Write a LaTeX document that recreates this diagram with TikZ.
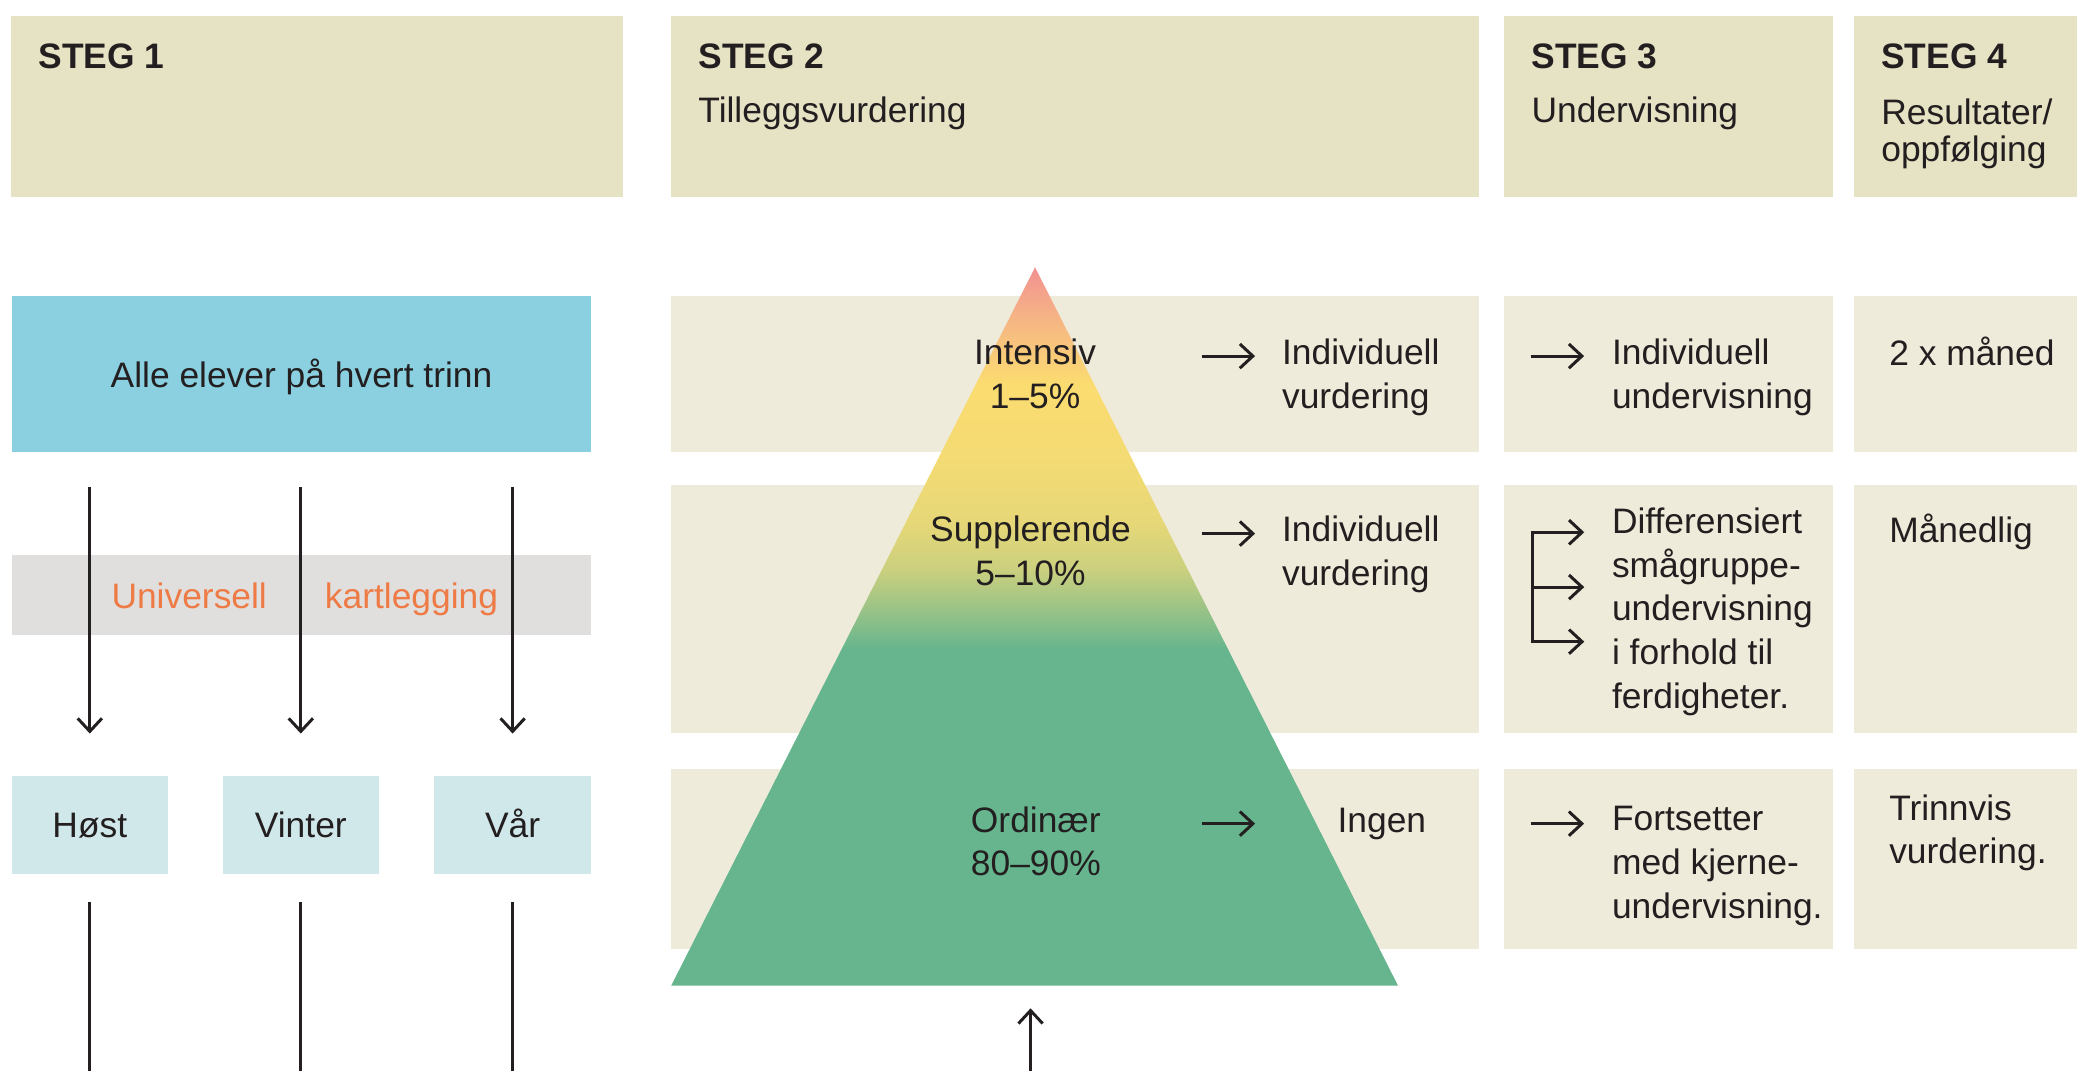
\documentclass[tikz,border=0pt]{standalone}
\usepackage{fontspec}
\setmainfont{Liberation Sans}
\usetikzlibrary{arrows.meta}

\definecolor{headbg}{HTML}{E6E2C4}
\definecolor{rowbg}{HTML}{EFEBDA}
\definecolor{allebg}{HTML}{8AD0E0}
\definecolor{bandbg}{HTML}{E0DFDD}
\definecolor{seasonbg}{HTML}{D0E8EA}
\definecolor{orangetext}{HTML}{EE7B45}
\definecolor{ink}{HTML}{231F20}
\definecolor{pyrpink}{HTML}{F29191}
\definecolor{pyrpeach}{HTML}{F6B485}
\definecolor{pyryellow}{HTML}{FBDC70}
\definecolor{pyrpale}{HTML}{F4DB73}
\definecolor{pyrlemon}{HTML}{E6D777}
\definecolor{pyrolive}{HTML}{CBD07E}
\definecolor{pyrsage}{HTML}{A3C585}
\definecolor{pyrgreen}{HTML}{66B58E}

\pgfdeclareverticalshading{pyramidshade}{100bp}{%
  color(0bp)=(pyrgreen); color(48.4bp)=(pyrgreen); color(51.7bp)=(pyrsage);
  color(54bp)=(pyrolive); color(57.2bp)=(pyrlemon); color(61.8bp)=(pyrpale);
  color(66.9bp)=(pyryellow); color(71.5bp)=(pyrpeach); color(75bp)=(pyrpink);
  color(100bp)=(pyrpink)}

\newcommand{\bodysize}{\fontsize{19}{23.5}\selectfont}
\newcommand{\headsize}{\fontsize{19}{20}\selectfont}

\begin{document}
\begin{tikzpicture}[x=0.025cm, y=-0.025cm,
    txt/.style={inner sep=0pt, align=left, text=ink, font=\bodysize, execute at begin node=\strut},
    head/.style={inner sep=0pt, anchor=base west, text=ink, font=\headsize\bfseries},
    sub/.style={inner sep=0pt, align=left, text=ink, font=\headsize, execute at begin node=\strut},
    box/.style={rectangle, inner sep=0pt, anchor=north west, text=ink, font=\bodysize, text height=13.9pt, text depth=0pt},
    seasonbox/.style={box, fill=seasonbg, minimum width=2.95cm, minimum height=1.85cm},
    arr/.style={draw=ink, line width=1.6pt, -{Straight Barb[length=7pt,width=13pt]}},
    plainline/.style={draw=ink, line width=1.6pt}]
        \useasboundingbox (0,0) rectangle (1568,808.5);
        % header boxes
        \foreach \xa/\xb in {8.3/470.3, 506.7/1116.6, 1135.5/1383.6, 1399.7/1568}
            \fill[headbg] (\xa,12.1) rectangle (\xb,148.5);
        % row boxes for steg 2, 3 and 4
        \foreach \ya/\yb in {223.5/341, 366.2/553.6, 580.6/716.7} {
            \fill[rowbg] (506.7,\ya)  rectangle (1116.6,\yb);
            \fill[rowbg] (1135.5,\ya) rectangle (1383.6,\yb);
            \fill[rowbg] (1399.7,\ya) rectangle (1568,\yb);
        }
        % header texts
        \node[head] (steg1) at (28.9,51.5) {STEG 1};
        \node[head] (steg2) at (527,51.5)  {STEG 2};
        \node[head] (steg3) at (1156,51.5) {STEG 3};
        \node[head] (steg4) at (1420,51.5) {STEG 4};
        \node[sub, anchor=base west]  (sub2) at (527,92.6)  {Tilleggsvurdering};
        \node[sub, anchor=base west]  (sub3) at (1156,92.6) {Undervisning};
        \node[sub, anchor=north west] (sub4) at (1420,74.5) {Resultater/\\oppfølging};
        % steg 1: all pupils, screening and the three seasons
        \node[box, fill=allebg, minimum width=10.94cm, minimum height=2.94cm] (alle) at (8.5,223.5) {Alle elever på hvert trinn};
        \node[box, fill=bandbg, minimum width=10.94cm, minimum height=1.525cm] (band) at (8.5,418.4) {};
        \node[seasonbox] (host)   at (8.5,585.4)   {Høst};
        \node[seasonbox] (vinter) at (167.8,585.4) {Vinter};
        \node[seasonbox] (var)    at (327.7,585.4) {Vår};
        \coordinate (bottomedge) at (0,808.5);
        \path (alle.south) ++(0,26) coordinate (armtop);
        \foreach \s in {host,vinter,var} {
            \draw[arr] (armtop -| \s) -- ([yshift=0.79cm]\s.north);
            \draw[plainline] ([yshift=-0.525cm]\s.south) -- (\s.south |- bottomedge);
        }
        \node[txt, anchor=base west, text=orangetext] (univ) at (83.9,459) {Universell};
        \node[txt, anchor=base west, text=orangetext] (kart) at (245,459)  {kartlegging};
        % coordinates for the pyramid
        \coordinate (apex)      at (781.4,201.8);
        \coordinate (baseleft)  at (506.7,744.1);
        \coordinate (baseright) at (1055.4,744.1);
        \coordinate (uptip)     at (778,761.2);
        % drawing the pyramid
        \shade[shading=pyramidshade] (apex) -- (baseleft) -- (baseright) -- cycle;
        \draw[arr] (uptip |- bottomedge) -- (uptip);
        \node[txt, anchor=north, align=center] (intensiv) at (781.4,255.5) {Intensiv\\1--5\%};
        \node[txt, anchor=north, align=center] (suppl)    at (778,389.5)   {Supplerende\\5--10\%};
        \node[txt, anchor=north, align=center] (ordinaer) at (782,608.5)   {Ordinær\\80--90\%};
        % steg 2 texts
        \node[txt, anchor=north west] (vurd1) at (967.6,255.5) {Individuell\\vurdering};
        \node[txt, anchor=north west] (vurd2) at (967.6,389.5) {Individuell\\vurdering};
        \node[txt, anchor=base west]  (ingen) at (1009.5,628.6) {Ingen};
        % steg 3 texts
        \node[txt, anchor=north west] (und1) at (1216.7,255.5) {Individuell\\undervisning};
        \node[txt, anchor=north west] (und2) at (1216.7,382.9) {Differensiert\\smågruppe-\\undervisning\\i forhold til\\ferdigheter.};
        \node[txt, anchor=north west] (und3) at (1216.7,608.5) {Fortsetter\\med kjerne-\\undervisning.};
        % steg 4 texts
        \node[txt, anchor=base west]  (res1) at (1426,275.6) {2 x måned};
        \node[txt, anchor=base west]  (res2) at (1426,409.6) {Månedlig};
        \node[txt, anchor=north west] (res3) at (1426,599.5) {Trinnvis\\vurdering.};
        % coordinates for the short arrows
        \coordinate (tier1)   at (907.2,268.8);
        \coordinate (tier2)   at (907.2,402.8);
        \coordinate (tier3)   at (907.2,621.8);
        \coordinate (teach1)  at (1155.6,268.8);
        \coordinate (teach3)  at (1155.6,621.8);
        \coordinate (forktop) at (1157,401.8);
        \coordinate (forkmid) at (1157,443.2);
        \coordinate (forkbot) at (1157,484.4);
        % drawing the short arrows
        \foreach \c in {tier1,tier2,tier3,teach1,teach3}
            \draw[arr] (\c) -- ++(40.3,0);
        \draw[arr] (forkbot) -- (forktop) -- ++(39,0);
        \draw[arr] (forktop) -- (forkbot) -- ++(39,0);
        \draw[arr] (forkmid) -- ++(39,0);
\end{tikzpicture}
\end{document}
